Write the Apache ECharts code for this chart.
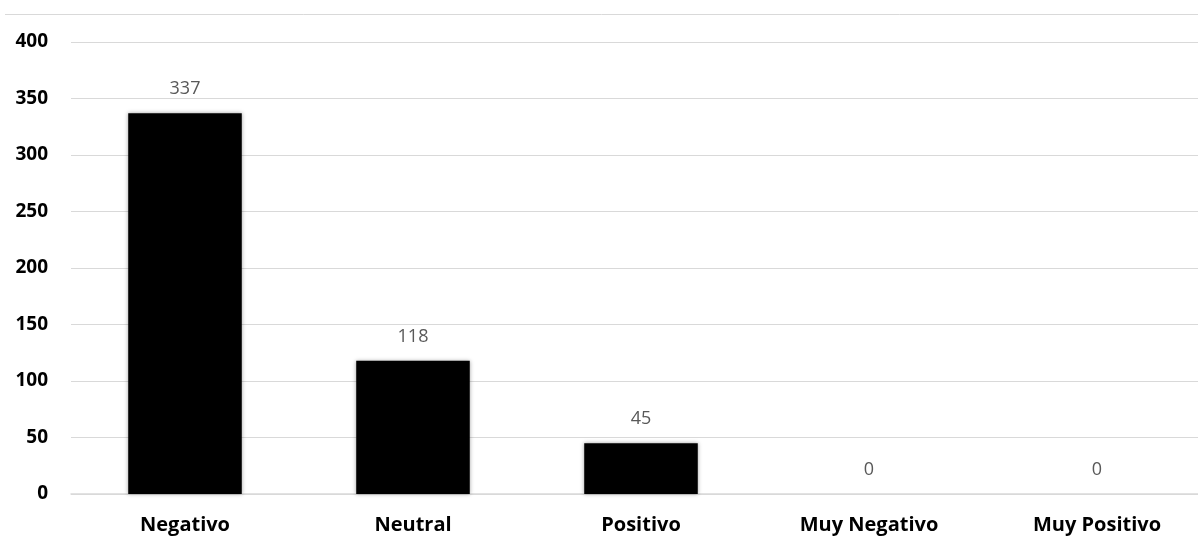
<!DOCTYPE html>
<html>
<head>
<meta charset="utf-8">
<script src="https://cdn.jsdelivr.net/npm/echarts@6/dist/echarts.min.js"></script>
<style>html,body{margin:0;padding:0;background:#fff}#c{width:1198px;height:538px}</style>
</head>
<body>
<div id="c"></div>
<script>
const categories = ['Negativo', 'Neutral', 'Positivo', 'Muy Negativo', 'Muy Positivo'];
const values = [337, 118, 45, 0, 0];
const yTicks = { min: 0, max: 400, interval: 50 };

const chart = echarts.init(document.getElementById('c'));
chart.setOption({
  animation: false,
  backgroundColor: '#fff',
  graphic: [{
    type: 'line',
    shape: { x1: 5, y1: 14.5, x2: 1198, y2: 14.5 },
    style: { stroke: '#d9d9d9', lineWidth: 1 }
  }],
  grid: { left: 71, width: 1140, top: 42, height: 452, containLabel: false, outerBoundsMode: 'none' },
  xAxis: {
    type: 'category',
    data: categories,
    axisLine: { show: true, lineStyle: { color: '#d9d9d9', width: 1.5 } },
    axisTick: { show: false },
    axisLabel: {
      color: '#000', fontWeight: 'bold', fontSize: 20,
      fontFamily: 'Open Sans', margin: 21
    }
  },
  yAxis: {
    type: 'value',
    min: yTicks.min, max: yTicks.max, interval: yTicks.interval,
    axisLine: { show: false },
    axisTick: { show: false },
    splitLine: { lineStyle: { color: '#d9d9d9', width: 1 } },
    axisLabel: {
      color: '#000', fontWeight: 'bold', fontSize: 19,
      fontFamily: 'Open Sans', margin: 23
    }
  },
  series: [{
    type: 'bar',
    data: values,
    barWidth: '49.8%',
    itemStyle: {
      color: '#000',
      shadowColor: 'rgba(0,0,0,0.35)', shadowBlur: 4, shadowOffsetX: 0, shadowOffsetY: 0
    },
    label: {
      show: true, position: 'top', distance: 15,
      color: '#595959', fontSize: 18, fontFamily: 'Open Sans'
    }
  }]
});
</script>
</body>
</html>
